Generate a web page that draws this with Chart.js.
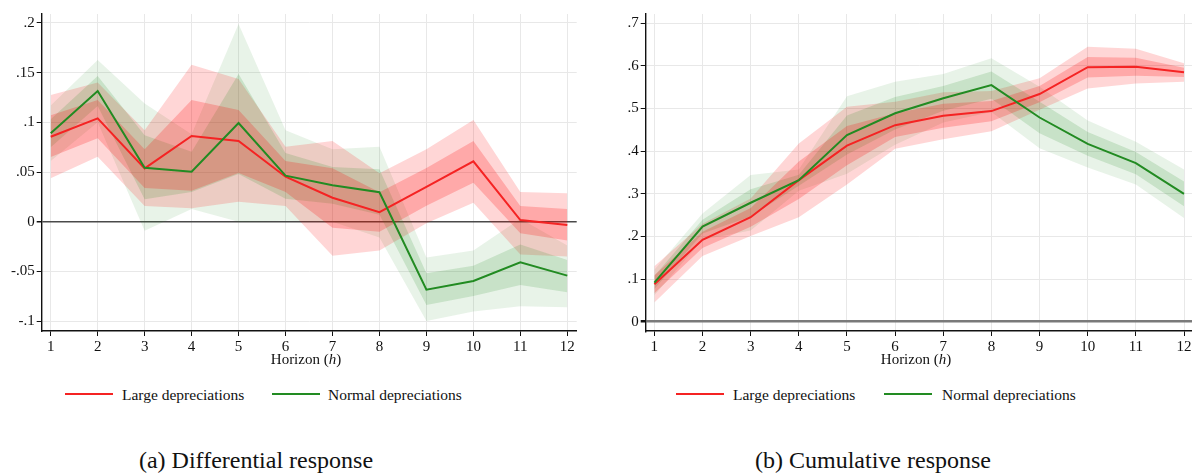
<!DOCTYPE html>
<html><head><meta charset="utf-8">
<script src="https://cdn.jsdelivr.net/npm/chart.js@4.4.1/dist/chart.umd.min.js"></script>
<style>
body{margin:0;background:#fff;width:1192px;height:473px;overflow:hidden;position:relative;font-family:"Liberation Serif","DejaVu Serif",serif;color:#111}
canvas{position:absolute;top:0}
#c1{left:0}
#c2{left:600px}
.t{position:absolute;white-space:nowrap}
.ax{font-size:15px;transform:translate(-50%,-50%)}
.lg{font-size:15.5px;transform:translateY(-50%)}
.ln{position:absolute;height:2px;width:48px}
.cap{font-size:24px;transform:translate(-50%,-50%)}
</style></head><body>
<canvas id="c1" width="590" height="372"></canvas>
<canvas id="c2" width="592" height="372"></canvas>

<div class="t ax" style="left:306px;top:359px">Horizon (<i>h</i>)</div>
<div class="t ax" style="left:916px;top:359px">Horizon (<i>h</i>)</div>

<div class="ln" style="left:65px;top:393px;background:rgb(245,35,35)"></div>
<div class="t lg" style="left:122px;top:395px">Large depreciations</div>
<div class="ln" style="left:272px;top:393px;background:rgb(34,139,34)"></div>
<div class="t lg" style="left:328px;top:395px">Normal depreciations</div>

<div class="ln" style="left:676px;top:393px;background:rgb(245,35,35)"></div>
<div class="t lg" style="left:733px;top:395px">Large depreciations</div>
<div class="ln" style="left:884px;top:393px;background:rgb(34,139,34)"></div>
<div class="t lg" style="left:942px;top:395px">Normal depreciations</div>

<div class="t cap" style="left:256px;top:460px">(a) Differential response</div>
<div class="t cap" style="left:873px;top:460px">(b) Cumulative response</div>

<script>
// ---------- data ----------
const horizons = [1,2,3,4,5,6,7,8,9,10,11,12];
const yTicksDiff = [-0.1,-0.05,0,0.05,0.1,0.15,0.2];
const yTicksCum  = [0,0.1,0.2,0.3,0.4,0.5,0.6,0.7];
const seriesNames = ["Large depreciations","Normal depreciations"];

// (a) Differential response
const diffLarge      = [0.0855,0.104,0.0537,0.0862,0.0812,0.0453,0.0241,0.0095,0.035,0.0608,0.0017,-0.0033];
const diffLargeOutHi = [0.1275,0.140,0.092,0.158,0.1435,0.0755,0.0812,0.0487,0.073,0.1023,0.030,0.0286];
const diffLargeOutLo = [0.0437,0.0654,0.0158,0.0135,0.020,0.0158,-0.0342,-0.029,-0.0016,0.019,-0.033,-0.035];
const diffLargeInHi  = [0.107,0.1224,0.0728,0.1224,0.1124,0.061,0.0537,0.0295,0.054,0.0812,0.0158,0.0128];
const diffLargeInLo  = [0.065,0.0839,0.034,0.0312,0.049,0.030,-0.006,-0.010,0.016,0.0392,-0.0117,-0.019];

const diffNormal      = [0.089,0.1315,0.0543,0.0503,0.0993,0.0463,0.0366,0.0296,-0.0684,-0.0597,-0.0408,-0.0543];
const diffNormalOutHi = [0.117,0.1627,0.119,0.088,0.199,0.092,0.073,0.0755,-0.036,-0.029,0.003,-0.024];
const diffNormalOutLo = [0.061,0.100,-0.009,0.0128,0.000,0.001,0.000,-0.016,-0.100,-0.0905,-0.085,-0.086];
const diffNormalInHi  = [0.103,0.1466,0.087,0.0704,0.1486,0.069,0.055,0.0527,-0.052,-0.0443,-0.023,-0.0385];
const diffNormalInLo  = [0.075,0.1164,0.0225,0.030,0.048,0.023,0.018,0.007,-0.0838,-0.0748,-0.0637,-0.071];

// (b) Cumulative response
const cumLarge      = [0.0877,0.192,0.245,0.332,0.413,0.461,0.483,0.494,0.534,0.597,0.598,0.585];
const cumLargeOutHi = [0.130,0.230,0.289,0.418,0.504,0.516,0.538,0.541,0.571,0.645,0.640,0.606];
const cumLargeOutLo = [0.045,0.154,0.201,0.245,0.322,0.406,0.428,0.447,0.497,0.547,0.559,0.563];
const cumLargeInHi  = [0.109,0.211,0.267,0.376,0.459,0.489,0.511,0.518,0.553,0.621,0.619,0.596];
const cumLargeInLo  = [0.067,0.173,0.223,0.288,0.367,0.433,0.455,0.470,0.515,0.573,0.577,0.574];

const cumNormal      = [0.0915,0.223,0.279,0.332,0.438,0.489,0.524,0.555,0.479,0.417,0.372,0.300];
const cumNormalOutHi = [0.122,0.254,0.344,0.357,0.529,0.563,0.581,0.618,0.551,0.472,0.422,0.357];
const cumNormalOutLo = [0.062,0.192,0.214,0.307,0.347,0.415,0.467,0.492,0.407,0.362,0.322,0.243];
const cumNormalInHi  = [0.107,0.239,0.311,0.345,0.484,0.527,0.553,0.587,0.516,0.445,0.398,0.329];
const cumNormalInLo  = [0.077,0.207,0.247,0.319,0.392,0.451,0.495,0.523,0.442,0.389,0.346,0.271];

// ---------- styles ----------
const RED = 'rgb(245,35,35)', GREEN = 'rgb(34,139,34)';
const RED_OUT = 'rgba(255,0,0,0.16)', RED_IN = 'rgba(255,0,0,0.21)';
const GREEN_OUT = 'rgba(34,139,34,0.10)', GREEN_IN = 'rgba(34,139,34,0.16)';
const FONT = {family:'"Liberation Serif", "DejaVu Serif", serif', size:15};

function pts(arr){ return arr.map((v,i)=>({x:horizons[i], y:v})); }
function band(hi, lo, color, order){
  return [
    {data:pts(hi), fill:'+1', backgroundColor:color, borderWidth:0, borderColor:'transparent', pointRadius:0, order},
    {data:pts(lo), fill:false, borderWidth:0, borderColor:'transparent', pointRadius:0, order}
  ];
}
function line(arr, color, order, label){
  return {label, data:pts(arr), fill:false, borderColor:color, borderWidth:2, pointRadius:0, order};
}
function fmt(v){
  if (Math.abs(v) < 1e-9) return '0';
  return String(+v.toFixed(3)).replace('0.', '.');
}

function makeChart(id, o){
  const datasets = [
    ...band(o.nOutHi, o.nOutLo, GREEN_OUT, 6),
    ...band(o.lOutHi, o.lOutLo, RED_OUT, 5),
    ...band(o.nInHi, o.nInLo, GREEN_IN, 4),
    ...band(o.lInHi, o.lInLo, RED_IN, 3),
    line(o.large, RED, 1, seriesNames[0]),
    line(o.normal, GREEN, 0, seriesNames[1])
  ];
  new Chart(document.getElementById(id), {
    type:'line',
    data:{datasets},
    options:{
      responsive:false, animation:false, devicePixelRatio:1,
      layout:{padding:o.padding},
      plugins:{legend:{display:false}, tooltip:{enabled:false}, title:{display:false}},
      elements:{line:{tension:0}},
      scales:{
        x:{
          type:'linear', min:o.xMin, max:o.xMax,
          afterBuildTicks:s=>{ s.ticks = horizons.map(v=>({value:v})); },
          afterFit:s=>{ s.height = o.xAxisH; s.paddingLeft = 0; s.paddingRight = 0; },
          grid:{color:'#e8e8e8', lineWidth:1, tickColor:'#111', tickLength:5, drawOnChartArea:true},
          border:{display:true, color:'#111', width:1.4},
          ticks:{font:FONT, color:'#111', padding:2, maxRotation:0, autoSkip:false, callback:v=>String(v)}
        },
        y:{
          type:'linear', min:o.yMin, max:o.yMax,
          afterBuildTicks:s=>{ s.ticks = o.yTicks.map(v=>({value:v})); },
          afterFit:s=>{ s.width = o.yAxisW; s.paddingTop = 0; s.paddingBottom = 0; },
          grid:{
            color:c=> (c.tick && Math.abs(c.tick.value) < 1e-9) ? o.zeroColor : '#e8e8e8',
            lineWidth:c=> (c.tick && Math.abs(c.tick.value) < 1e-9) ? o.zeroWidth : 1,
            tickColor:'#111', tickLength:5
          },
          border:{display:true, color:'#111', width:1.4},
          ticks:{font:FONT, color:'#111', padding:2, autoSkip:false, callback:v=>fmt(v)}
        }
      }
    }
  });
}

makeChart('c1', {
  large:diffLarge, lOutHi:diffLargeOutHi, lOutLo:diffLargeOutLo, lInHi:diffLargeInHi, lInLo:diffLargeInLo,
  normal:diffNormal, nOutHi:diffNormalOutHi, nOutLo:diffNormalOutLo, nInHi:diffNormalInHi, nInLo:diffNormalInLo,
  xMin:0.808, xMax:12.2, yMin:-0.110, yMax:0.209, yTicks:yTicksDiff,
  padding:{top:14, right:13.3, left:0, bottom:0}, yAxisW:41.7, xAxisH:41,
  zeroColor:'#4a4a4a', zeroWidth:1.5
});
makeChart('c2', {
  large:cumLarge, lOutHi:cumLargeOutHi, lOutLo:cumLargeOutLo, lInHi:cumLargeInHi, lInLo:cumLargeInLo,
  normal:cumNormal, nOutHi:cumNormalOutHi, nOutLo:cumNormalOutLo, nInHi:cumNormalInHi, nInLo:cumNormalInLo,
  xMin:0.82, xMax:12.166, yMin:-0.0218, yMax:0.7218, yTicks:yTicksCum,
  padding:{top:14, right:0, left:0, bottom:0}, yAxisW:45.7, xAxisH:41,
  zeroColor:'#7a7a7a', zeroWidth:2.5
});
</script>
</body></html>
